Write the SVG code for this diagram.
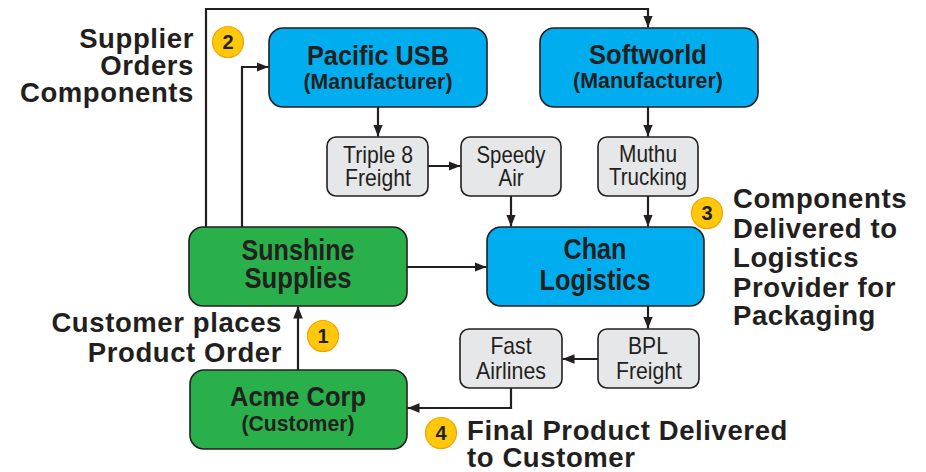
<svg xmlns="http://www.w3.org/2000/svg" width="926" height="472" viewBox="0 0 926 472">
<style>
.box{stroke:#231F20;stroke-width:1.6}
.blue{fill:#00AEEF}
.green{fill:#29B04B}
.gray{fill:#E6E7E8}
.t{font-family:"Liberation Sans",Arial,sans-serif;fill:#231F20;text-anchor:middle}
.b{font-weight:bold}
.lbl{font-family:"Liberation Sans",Arial,sans-serif;font-weight:bold;font-size:27.5px;fill:#231F20;letter-spacing:0.6px}
.end{text-anchor:end}
.conn{fill:none;stroke:#231F20;stroke-width:2.2}
.badge{fill:#FFC80B;stroke:#F5A300;stroke-width:1.2}
.num{font-family:"Liberation Sans",Arial,sans-serif;font-weight:bold;font-size:20px;fill:#231F20;text-anchor:middle}
</style>
<defs>
<marker id="ah" markerUnits="userSpaceOnUse" markerWidth="12" markerHeight="12" viewBox="0 0 10 10" refX="10" refY="5" orient="auto">
<path d="M0,1 L10,5 L0,9 Z" fill="#231F20"/>
</marker>
</defs>
<rect width="926" height="472" fill="#FFFFFF"/>

<g id="connectors">
<path class="conn" d="M206,227 V9 H648 V27.5" marker-end="url(#ah)"/>
<path class="conn" d="M242,227 V67 H268.5" marker-end="url(#ah)"/>
<path class="conn" d="M378,107 V136.5" marker-end="url(#ah)"/>
<path class="conn" d="M428,166 H460.5" marker-end="url(#ah)"/>
<path class="conn" d="M648,107 V136.5" marker-end="url(#ah)"/>
<path class="conn" d="M511,196 V226.5" marker-end="url(#ah)"/>
<path class="conn" d="M648,196 V226.5" marker-end="url(#ah)"/>
<path class="conn" d="M407,267 H486.5" marker-end="url(#ah)"/>
<path class="conn" d="M648,306 V328.5" marker-end="url(#ah)"/>
<path class="conn" d="M598,359 H562.5" marker-end="url(#ah)"/>
<path class="conn" d="M511,388 V408 H407.5" marker-end="url(#ah)"/>
<path class="conn" d="M298,370 V306.5" marker-end="url(#ah)"/>
</g>

<g id="pacific-usb">
<rect class="box blue" x="269" y="28" width="218" height="79" rx="14"/>
<text class="t b" x="378" y="65" font-size="28" textLength="142" lengthAdjust="spacingAndGlyphs">Pacific USB</text>
<text class="t b" x="378" y="89" font-size="22" textLength="149" lengthAdjust="spacingAndGlyphs">(Manufacturer)</text>
</g>

<g id="softworld">
<rect class="box blue" x="540" y="28" width="218" height="79" rx="14"/>
<text class="t b" x="648" y="64" font-size="28" textLength="118" lengthAdjust="spacingAndGlyphs">Softworld</text>
<text class="t b" x="648" y="88" font-size="22" textLength="150" lengthAdjust="spacingAndGlyphs">(Manufacturer)</text>
</g>

<g id="triple-8-freight">
<rect class="box gray" x="327" y="137" width="101" height="59" rx="9"/>
<text class="t" x="378" y="163" font-size="24" textLength="70" lengthAdjust="spacingAndGlyphs">Triple 8</text>
<text class="t" x="378" y="186" font-size="24" textLength="66" lengthAdjust="spacingAndGlyphs">Freight</text>
</g>

<g id="speedy-air">
<rect class="box gray" x="461" y="137" width="100" height="59" rx="9"/>
<text class="t" x="511" y="163" font-size="24" textLength="69" lengthAdjust="spacingAndGlyphs">Speedy</text>
<text class="t" x="511" y="186" font-size="24" textLength="25" lengthAdjust="spacingAndGlyphs">Air</text>
</g>

<g id="muthu-trucking">
<rect class="box gray" x="598" y="137" width="100" height="59" rx="9"/>
<text class="t" x="648" y="162" font-size="24" textLength="58" lengthAdjust="spacingAndGlyphs">Muthu</text>
<text class="t" x="648" y="185" font-size="24" textLength="78" lengthAdjust="spacingAndGlyphs">Trucking</text>
</g>

<g id="sunshine-supplies">
<rect class="box green" x="189" y="227" width="218" height="79" rx="14"/>
<text class="t b" x="298" y="260" font-size="29" textLength="113" lengthAdjust="spacingAndGlyphs">Sunshine</text>
<text class="t b" x="298" y="288" font-size="29" textLength="107" lengthAdjust="spacingAndGlyphs">Supplies</text>
</g>

<g id="chan-logistics">
<rect class="box blue" x="487" y="227" width="217" height="79" rx="14"/>
<text class="t b" x="595" y="259" font-size="29" textLength="63" lengthAdjust="spacingAndGlyphs">Chan</text>
<text class="t b" x="595" y="290" font-size="29" textLength="111" lengthAdjust="spacingAndGlyphs">Logistics</text>
</g>

<g id="fast-airlines">
<rect class="box gray" x="460" y="329" width="102" height="59" rx="9"/>
<text class="t" x="511" y="354" font-size="24" textLength="41" lengthAdjust="spacingAndGlyphs">Fast</text>
<text class="t" x="511" y="379" font-size="24" textLength="70" lengthAdjust="spacingAndGlyphs">Airlines</text>
</g>

<g id="bpl-freight">
<rect class="box gray" x="598" y="329" width="101" height="59" rx="9"/>
<text class="t" x="648" y="354" font-size="24" textLength="40" lengthAdjust="spacingAndGlyphs">BPL</text>
<text class="t" x="649" y="379" font-size="24" textLength="66" lengthAdjust="spacingAndGlyphs">Freight</text>
</g>

<g id="acme-corp">
<rect class="box green" x="190" y="370" width="217" height="79" rx="14"/>
<text class="t b" x="298" y="406" font-size="27" textLength="136" lengthAdjust="spacingAndGlyphs">Acme Corp</text>
<text class="t b" x="298" y="431" font-size="22" textLength="113" lengthAdjust="spacingAndGlyphs">(Customer)</text>
</g>

<g id="step-1">
<circle class="badge" cx="323" cy="336" r="15.5"/>
<text class="num" x="323" y="343">1</text>
<text class="lbl end" x="282" y="332">Customer places</text>
<text class="lbl end" x="282" y="362">Product Order</text>
</g>

<g id="step-2">
<circle class="badge" cx="228" cy="42" r="15.5"/>
<text class="num" x="228" y="49">2</text>
<text class="lbl end" x="194" y="48">Supplier</text>
<text class="lbl end" x="194" y="75">Orders</text>
<text class="lbl end" x="194" y="102">Components</text>
</g>

<g id="step-3">
<circle class="badge" cx="707" cy="213" r="15.5"/>
<text class="num" x="707" y="220">3</text>
<text class="lbl" x="733" y="208">Components</text>
<text class="lbl" x="733" y="238">Delivered to</text>
<text class="lbl" x="733" y="267">Logistics</text>
<text class="lbl" x="733" y="297">Provider for</text>
<text class="lbl" x="733" y="325">Packaging</text>
</g>

<g id="step-4">
<circle class="badge" cx="441" cy="433" r="15.5"/>
<text class="num" x="441" y="440">4</text>
<text class="lbl" x="467" y="440">Final Product Delivered</text>
<text class="lbl" x="467" y="467">to Customer</text>
</g>
</svg>
